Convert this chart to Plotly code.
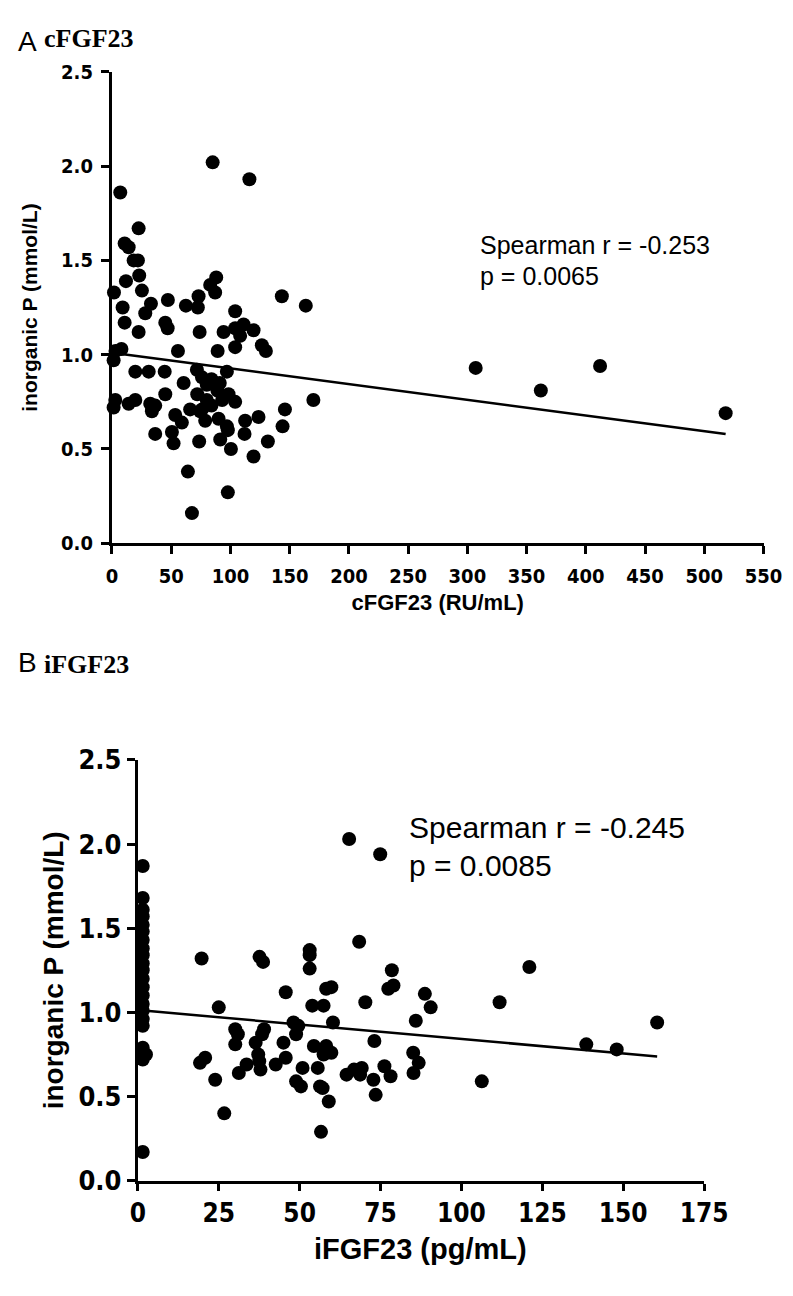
import plotly.graph_objects as go

# panel A: cFGF23 vs inorganic P
cfgf23 = [7, 85, 116, 22.5, 10.7, 14.1, 18.3, 21.9, 23, 11.8, 1.7, 25.3, 32.9, 9, 28.1,
          47.2, 62.4, 73.1, 72.5, 88, 82.9, 87.1, 143.4, 104, 10.7, 45, 47, 22.5, 74,
          94.2, 104, 111.1, 119.5, 163.6, 108.2, 89.2, 104, 126.5, 129.9, 1.4, 19.7, 31,
          44.5, 60.5, 71.7, 97, 2.8, 1.4, 14.1, 19.7, 32.3, 36.5, 33.7, 45, 53.4, 59, 66,
          74.5, 78.7, 90, 97, 98.4, 104, 112.4, 123.7, 36.5, 50.6, 52, 73.6, 91.4, 97.8,
          100.4, 111.9, 119.5, 64.1, 97.8, 67.5, 146, 144, 170, 131.6, 307, 362, 412, 518,
          76, 80, 84, 89, 80, 72, 84, 93, 76, 91, 3, 8, 55.7]
phos_a = [1.86, 2.02, 1.93, 1.67, 1.59, 1.57, 1.50, 1.50, 1.42, 1.39, 1.33, 1.34, 1.27, 1.25, 1.22,
          1.29, 1.26, 1.31, 1.25, 1.41, 1.37, 1.33, 1.31, 1.23, 1.17, 1.17, 1.14, 1.12, 1.12,
          1.12, 1.14, 1.16, 1.13, 1.26, 1.10, 1.02, 1.04, 1.05, 1.02, 0.97, 0.91, 0.91,
          0.91, 0.85, 0.92, 0.91, 0.76, 0.72, 0.74, 0.76, 0.74, 0.73, 0.70, 0.79, 0.68, 0.64, 0.71,
          0.70, 0.65, 0.66, 0.62, 0.79, 0.75, 0.65, 0.67, 0.58, 0.59, 0.53, 0.54, 0.55, 0.60,
          0.50, 0.58, 0.46, 0.38, 0.27, 0.16, 0.71, 0.62, 0.76, 0.54, 0.93, 0.81, 0.94, 0.69,
          0.88, 0.84, 0.87, 0.81, 0.76, 0.79, 0.73, 0.76, 0.71, 0.85, 1.02, 1.03, 1.02]
fit_a_x = [0, 518]
fit_a_y = [1.01, 0.58]

# panel B: iFGF23 vs inorganic P
ifgf23 = [1.5] * 22 + [2.5,
          19.7, 19.2, 20.8, 23.9, 25.0, 26.7, 30.1, 30.9, 30.1, 31.2, 33.6, 36.4, 37.2, 37.6,
          38.7, 37.5, 37.9, 38.4, 39.0, 42.6, 45.0, 45.7, 45.7, 48.1, 48.9, 49.6, 48.9, 50.4,
          50.9, 53.1, 53.1, 53.1, 53.9, 54.4, 55.6, 56.3, 57.1, 56.6, 57.4, 57.4, 58.2, 58.2,
          59.8, 60.3, 59.0, 59.8, 64.5, 65.3, 66.8, 68.4, 68.7, 69.2, 70.3, 72.8, 73.1, 73.5,
          74.9, 76.2, 77.4, 78.5, 79.0, 78.1, 85.1, 85.2, 85.9, 86.8, 88.7, 90.5, 106.3, 111.8,
          121.0, 138.6, 148.0, 160.5]
phos_b = [1.87, 1.68, 1.61, 1.57, 1.52, 1.48, 1.43, 1.38, 1.34, 1.29, 1.25, 1.20, 1.15, 1.10,
          1.05, 1.01, 0.96, 0.92, 0.79, 0.76, 0.72, 0.17, 0.75,
          1.32, 0.70, 0.73, 0.60, 1.03, 0.40, 0.90, 0.87, 0.81, 0.64, 0.69, 0.82, 0.75, 1.33,
          1.30, 0.71, 0.66, 0.87, 0.90, 0.69, 0.82, 0.73, 1.12, 0.94, 0.87, 0.92, 0.59, 0.56,
          0.67, 1.37, 1.34, 1.26, 1.04, 0.80, 0.67, 0.56, 0.55, 0.29, 1.04, 0.75, 0.80, 1.14,
          1.15, 0.94, 0.47, 0.76, 0.63, 2.03, 0.66, 1.42, 0.63, 0.67, 1.06, 0.60, 0.83, 0.51,
          1.94, 0.68, 1.14, 1.25, 1.16, 0.62, 0.76, 0.64, 0.95, 0.70, 1.11, 1.03, 0.59, 1.06,
          1.27, 0.81, 0.78, 0.94]
fit_b_x = [0, 160.5]
fit_b_y = [1.014, 0.738]

W, H = 793, 1296
tickfam = "DejaVu Sans Condensed, Liberation Sans, Arial"
sans = "Liberation Sans, Arial"

fig = go.Figure()
fig.add_trace(go.Scatter(x=cfgf23, y=phos_a, mode="markers", cliponaxis=False,
                         marker=dict(color="black", size=14), xaxis="x", yaxis="y"))
fig.add_trace(go.Scatter(x=fit_a_x, y=fit_a_y, mode="lines",
                         line=dict(color="black", width=2.5), xaxis="x", yaxis="y"))
fig.add_trace(go.Scatter(x=ifgf23, y=phos_b, mode="markers", cliponaxis=False,
                         marker=dict(color="black", size=14), xaxis="x2", yaxis="y2"))
fig.add_trace(go.Scatter(x=fit_b_x, y=fit_b_y, mode="lines",
                         line=dict(color="black", width=2.5), xaxis="x2", yaxis="y2"))


def ax(dom, rng, dt, fs, tl, lso, title, tfs, standoff, anchor):
    return dict(domain=dom, range=rng, dtick=dt, tick0=0, anchor=anchor,
                showline=True, linecolor="black", linewidth=3, mirror=False,
                ticks="outside", ticklen=tl, tickwidth=3, tickcolor="black",
                ticklabelstandoff=lso,
                showgrid=False, zeroline=False,
                tickfont=dict(family=tickfam, size=fs, color="black", weight="bold"),
                title=dict(text=title, standoff=standoff,
                           font=dict(family=sans, size=tfs, color="black", weight="bold")))


bx = [127 / W, 717 / W]
fig.update_layout(
    width=W, height=H, showlegend=False,
    plot_bgcolor="white", paper_bgcolor="white",
    margin=dict(l=0, r=0, t=0, b=0),
    xaxis=ax([100 / W, 779 / W], [0, 550], 50, 20, 8, 5, "cFGF23 (RU/mL)", 22, 8, "y"),
    yaxis=ax([1 - 532 / H, 1 - 49 / H], [0, 2.5], 0.5, 20, 8, 4, "inorganic P (mmol/L)", 21, 18, "x"),
    xaxis2=ax(bx, [0, 175], 25, 26, 7, 0, "", 29, 0, "y2"),
    yaxis2=ax([1 - 1185 / H, 1 - 754 / H], [0, 2.5], 0.5, 27, 8, 0, "inorganic P (mmol/L)", 28, 7, "x2"),
)
fig.update_yaxes(tickformat=".1f")

serif = "Liberation Serif, Times New Roman"
ann = [
    dict(x=0, y=1, yanchor="top", text="A", font=dict(family=sans, size=28)),
    dict(x=27 / W, y=1 + 2 / H, yanchor="top", text="<b>cFGF23</b>", font=dict(family=serif, size=26)),
    dict(x=0, y=1 - 654 / H, text="B", font=dict(family=sans, size=28)),
    dict(x=27 / W, y=1 - 656 / H, text="<b>iFGF23</b>", font=dict(family=serif, size=26)),
    dict(x=481 / W, y=1 - 226 / H, text="Spearman r = -0.253", font=dict(family=sans, size=25)),
    dict(x=481 / W, y=1 - 258 / H, text="p = 0.0065", font=dict(family=sans, size=25)),
    dict(x=407 / W, y=1 - 823 / H, text="Spearman r = -0.245", font=dict(family=sans, size=30)),
    dict(x=407 / W, y=1 - 862 / H, text="p = 0.0085", font=dict(family=sans, size=30)),
    dict(x=(bx[0] + bx[1]) / 2, xanchor="center", y=1 - 1255 / H, text="<b>iFGF23 (pg/mL)</b>",
         font=dict(family=sans, size=29)),
]
for a in ann:
    a.update(xref="paper", yref="paper", showarrow=False)
    a.setdefault("xanchor", "left")
    a.setdefault("yanchor", "middle")
    a["font"]["color"] = "black"
fig.update_layout(annotations=ann)

fig.write_html("out.html")
